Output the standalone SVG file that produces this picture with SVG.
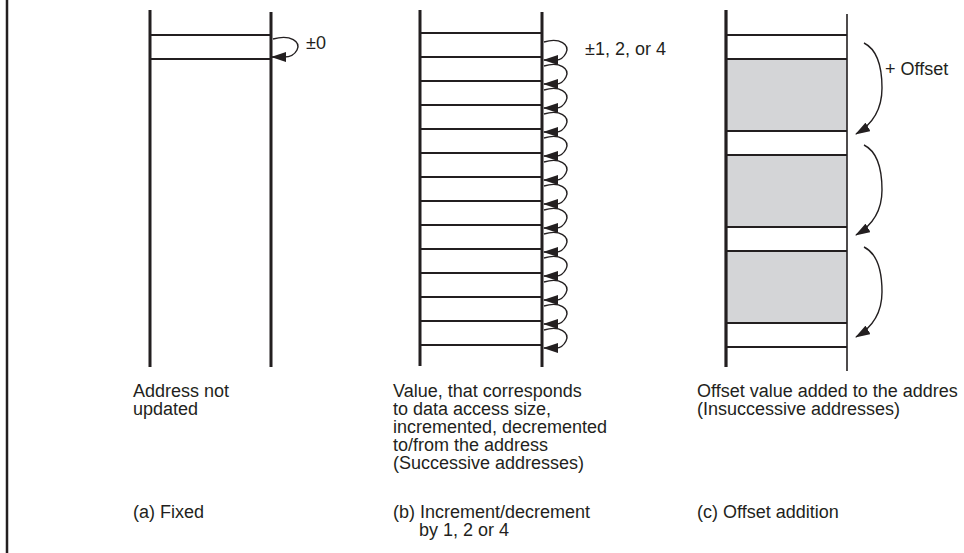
<svg xmlns="http://www.w3.org/2000/svg" width="964" height="553" viewBox="0 0 964 553">
<style>
.v{stroke:#231f20;stroke-width:3;fill:none}
.h{stroke:#231f20;stroke-width:2;fill:none}
.t{font-family:"Liberation Sans",Arial,Helvetica,sans-serif;font-size:18px;fill:#231f20}
.loop{stroke:#231f20;stroke-width:1.4;fill:none;marker-end:url(#ah)}
.gray{fill:#d4d5d7}
</style>
<defs>
<marker id="ah" viewBox="0 0 15 10" refX="14" refY="5" markerWidth="15" markerHeight="10" markerUnits="userSpaceOnUse" orient="auto">
<path d="M0,0 L15,5 L0,10 Z" fill="#231f20"/>
</marker>
</defs>
<rect width="964" height="553" fill="#fff"/>
<line x1="7" y1="0" x2="7" y2="553" stroke="#231f20" stroke-width="2.5"/>

<g id="panel-a">
<line class="v" x1="150" y1="10" x2="150" y2="367"/>
<line class="v" x1="271" y1="12" x2="271" y2="367"/>
<line class="h" x1="150" y1="35" x2="271" y2="35" stroke-width="1.6"/>
<line class="h" x1="150" y1="59" x2="271" y2="59" stroke-width="1.6"/>
<text class="t" x="306" y="49">±0</text>
</g>

<g id="panel-b">
<line class="v" x1="420" y1="10" x2="420" y2="366"/>
<line class="v" x1="542" y1="12" x2="542" y2="367"/>
<path class="h" d="M420,33H542M420,57H542M420,81H542M420,105H542M420,129H542M420,153H542M420,177H542M420,201H542M420,225H542M420,249H542M420,273H542M420,297H542M420,321H542M420,345H542"/>
<text class="t" x="585" y="55">±1, 2, or 4</text>
</g>

<g id="panel-c">
<rect class="gray" x="726" y="59" width="121" height="72"/>
<rect class="gray" x="726" y="155" width="121" height="72"/>
<rect class="gray" x="726" y="251" width="121" height="72"/>
<line x1="726" y1="10" x2="726" y2="367" stroke="#231f20" stroke-width="3.2"/>
<line x1="847" y1="14" x2="847" y2="371" stroke="#231f20" stroke-width="1.6"/>
<path class="h" d="M726,35H847M726,59H847M726,131H847M726,155H847M726,227H847M726,251H847M726,323H847M726,347H847"/>
<text class="t" x="885" y="75">+ Offset</text>
</g>

<g id="connectors">
<path class="loop" d="M273,39 C291,34 301,42 297,50 C295,54 291,57 284,57 L272,57"/>
<path class="loop" d="M544,42 C560,37 570,45 566,53 C564,57 560,60 556,60 L544,60"/>
<path class="loop" d="M544,66 C560,61 570,69 566,77 C564,81 560,84 556,84 L544,84"/>
<path class="loop" d="M544,90 C560,85 570,93 566,101 C564,105 560,108 556,108 L544,108"/>
<path class="loop" d="M544,114 C560,109 570,117 566,125 C564,129 560,132 556,132 L544,132"/>
<path class="loop" d="M544,138 C560,133 570,141 566,149 C564,153 560,156 556,156 L544,156"/>
<path class="loop" d="M544,162 C560,157 570,165 566,173 C564,177 560,180 556,180 L544,180"/>
<path class="loop" d="M544,186 C560,181 570,189 566,197 C564,201 560,204 556,204 L544,204"/>
<path class="loop" d="M544,210 C560,205 570,213 566,221 C564,225 560,228 556,228 L544,228"/>
<path class="loop" d="M544,234 C560,229 570,237 566,245 C564,249 560,252 556,252 L544,252"/>
<path class="loop" d="M544,258 C560,253 570,261 566,269 C564,273 560,276 556,276 L544,276"/>
<path class="loop" d="M544,282 C560,277 570,285 566,293 C564,297 560,300 556,300 L544,300"/>
<path class="loop" d="M544,306 C560,301 570,309 566,317 C564,321 560,324 556,324 L544,324"/>
<path class="loop" d="M544,330 C560,325 570,333 566,341 C564,345 560,348 556,348 L544,348"/>
<path class="loop" d="M864,43 C878,50 882,70 882,88 C882,108 873,124 856,134"/>
<path class="loop" d="M864,145 C878,152 882,172 882,190 C882,210 873,225 856,235"/>
<path class="loop" d="M864,247 C878,254 882,274 882,292 C882,312 873,327 856,337"/>
</g>

<g id="labels">
<text class="t" x="133" y="397">Address not</text>
<text class="t" x="133" y="415">updated</text>
<text class="t" x="393" y="397">Value, that corresponds</text>
<text class="t" x="393" y="415">to data access size,</text>
<text class="t" x="393" y="433">incremented, decremented</text>
<text class="t" x="393" y="451">to/from the address</text>
<text class="t" x="393" y="469">(Successive addresses)</text>
<text class="t" x="697" y="397">Offset value added to the addres</text>
<text class="t" x="697" y="415">(Insuccessive addresses)</text>
<text class="t" x="133" y="518">(a) Fixed</text>
<text class="t" x="393" y="518">(b)  Increment/decrement</text>
<text class="t" x="419" y="536">by 1, 2 or 4</text>
<text class="t" x="697" y="518">(c) Offset addition</text>
</g>
</svg>
